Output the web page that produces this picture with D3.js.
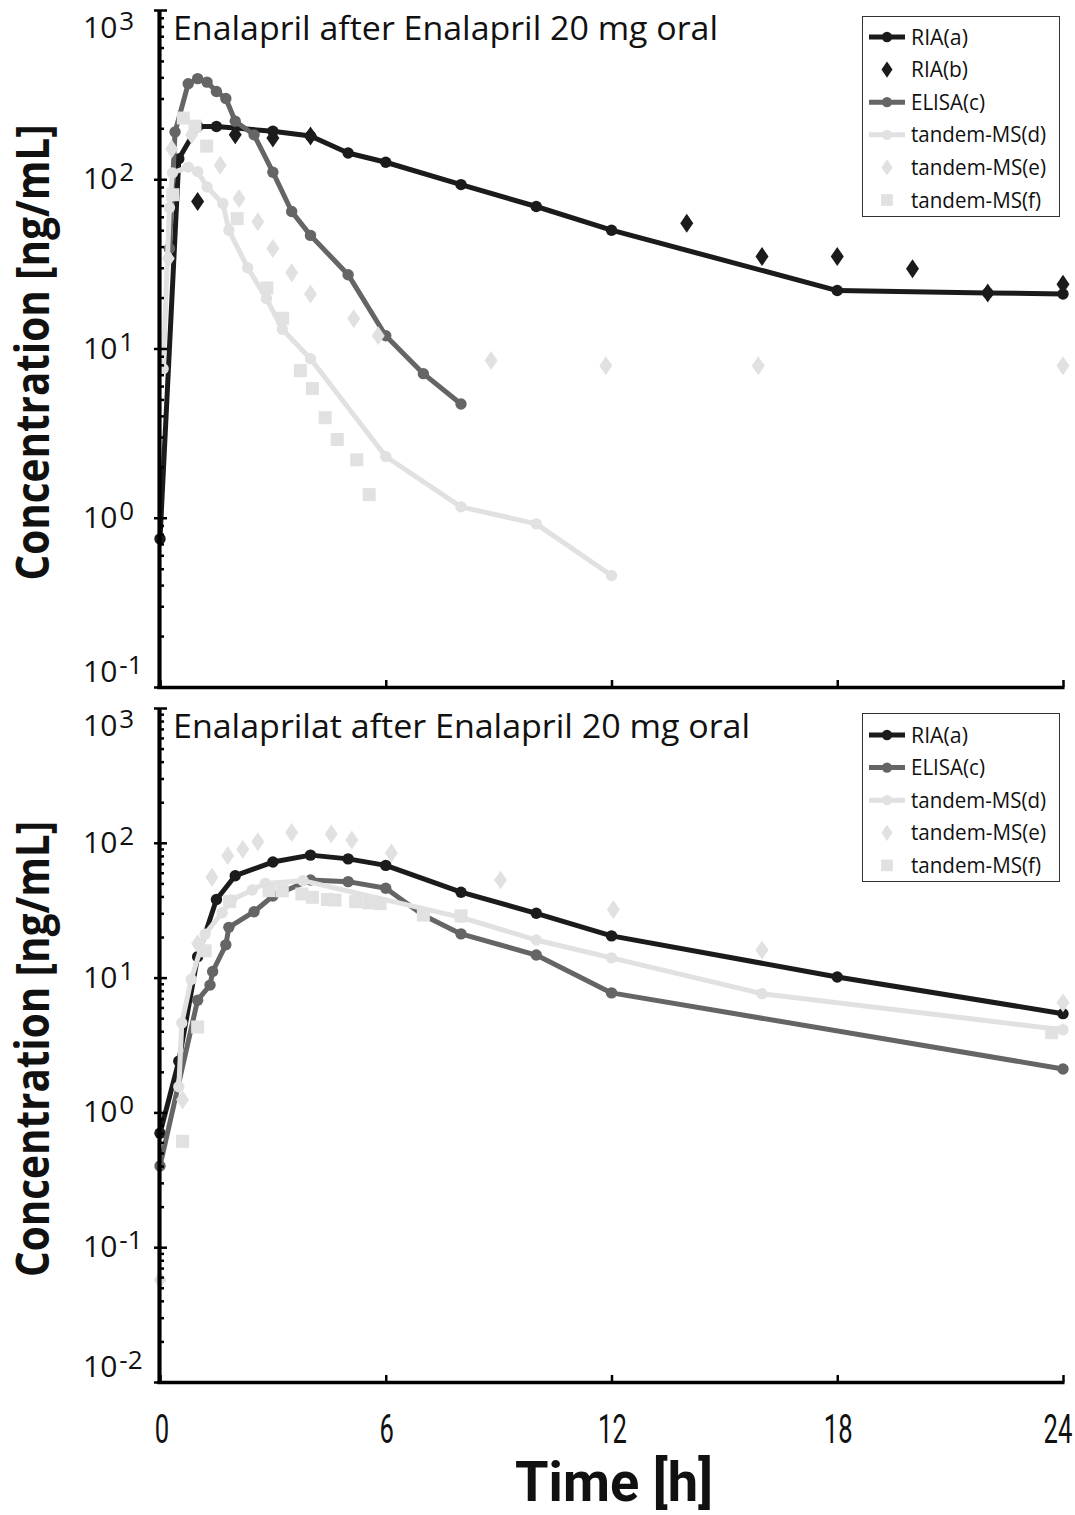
<!DOCTYPE html>
<html>
<head>
<meta charset="utf-8">
<script src="https://cdn.jsdelivr.net/npm/d3@7"></script>
<style>
  html, body { margin: 0; padding: 0; background: #fff; }
  svg { display: block; }
  text { font-family: "Open Sans", "Noto Sans", sans-serif; fill: #111; }
  .tight { font-family: Roboto, "Open Sans", sans-serif; }
</style>
</head>
<body>
<svg id="chart" width="1075" height="1515"></svg>
<script>
// ---- Enalapril (parent drug) after 20 mg oral ----
const enaRiaA_time = [0, 0.5, 1, 1.5, 3, 4, 5, 6, 8, 10, 12, 18, 22, 24];
const enaRiaA_conc = [0.75, 132, 205, 205, 192, 180, 143, 126, 93, 69, 50, 22, 21.3, 21];

const enaRiaB_time = [1, 2, 3, 4, 14, 16, 18, 20, 22, 24];
const enaRiaB_conc = [74, 183, 175, 180, 55, 35, 35, 29.6, 21.3, 24];

const enaElisa_time = [0.25, 0.4, 0.75, 1, 1.25, 1.5, 1.75, 2, 2.5, 3, 3.5, 4, 5, 6, 7, 8];
const enaElisa_conc = [39, 190, 367, 393, 375, 330, 300, 220, 183, 110, 64.5, 46.6, 27.3, 11.9, 7.1, 4.7];

const enaMsD_time = [0.083, 0.25, 0.33, 0.75, 1, 1.25, 1.67, 1.83, 2.33, 2.83, 3.25, 4, 6, 8, 10, 12];
const enaMsD_conc = [7.6, 68, 109, 118, 111, 90, 72, 50, 30, 19.7, 13, 8.7, 2.3, 1.16, 0.92, 0.456];

const enaMsE_time = [0.22, 0.31, 0.84, 1.6, 2.1, 2.6, 3, 3.5, 4, 5.15, 5.8, 8.8, 11.85, 15.9, 24];
const enaMsE_conc = [34, 151, 183, 121, 77, 56, 39, 28, 21, 15, 11.9, 8.5, 7.9, 7.9, 7.9];

const enaMsF_time = [0.34, 0.62, 0.93, 1.24, 2.05, 2.84, 3.26, 3.73, 4.05, 4.39, 4.71, 5.23, 5.56];
const enaMsF_conc = [81, 230, 206, 157, 58.5, 22.8, 15.1, 7.4, 5.8, 3.9, 2.9, 2.2, 1.37];

// ---- Enalaprilat (active metabolite) after Enalapril 20 mg oral ----
const latRiaA_time = [0, 0.5, 1, 1.5, 2, 3, 4, 5, 6, 8, 10, 12, 18, 24];
const latRiaA_conc = [0.7, 2.4, 14.3, 38, 57, 72, 81, 76, 68, 43, 30, 20.4, 10.1, 5.4];

const latElisa_time = [0, 1, 1.33, 1.4, 1.75, 1.83, 2.5, 3, 4, 5, 6, 7, 8, 10, 12, 24];
const latElisa_conc = [0.4, 6.8, 8.8, 11.1, 17.5, 23.6, 30.8, 40.3, 53, 51.5, 46, 29, 21.1, 14.7, 7.7, 2.1];

const latMsD_time = [0.5, 0.58, 0.83, 1.2, 1.65, 1.9, 2.45, 2.8, 3.8, 8, 10, 12, 16, 24];
const latMsD_conc = [1.55, 4.6, 9.7, 21, 30.3, 37.7, 44.7, 50, 52.4, 28, 19, 14, 7.6, 4.1];

const latMsE_time = [0, 0.6, 1, 1.38, 1.8, 2.2, 2.6, 3.5, 4.55, 5.1, 6.15, 9.05, 12.05, 16, 24];
const latMsE_conc = [0.057, 1.24, 17.8, 55.5, 80, 89.5, 102, 119, 116, 105, 84, 53, 32, 16, 6.5];

const latMsF_time = [0.6, 1, 1.2, 1.85, 2.9, 3.25, 3.77, 4.05, 4.45, 4.65, 5.2, 5.55, 5.85, 7, 8, 23.7];
const latMsF_conc = [0.61, 4.3, 15.8, 36.6, 44.2, 44, 41.7, 39.4, 38, 37.6, 36.6, 35.9, 35.4, 29.1, 28.7, 3.9];

// ---- axis ticks and text ----
const timeTicks = [0, 6, 12, 18, 24];
const yTitle = "Concentration [ng/mL]";
const xTitle = "Time [h]";
const panelTitles = ["Enalapril after Enalapril 20 mg oral", "Enalaprilat after Enalapril 20 mg oral"];

// ---- series styles ----
const STYLE = {
  "RIA(a)":       { color: "#1b1b1b", kind: "line" },
  "RIA(b)":       { color: "#1b1b1b", kind: "diamond" },
  "ELISA(c)":     { color: "#656565", kind: "line" },
  "tandem-MS(d)": { color: "#e1e1e1", kind: "line" },
  "tandem-MS(e)": { color: "#e1e1e1", kind: "diamond" },
  "tandem-MS(f)": { color: "#e1e1e1", kind: "square" }
};

const zip = (t, c) => t.map((d, i) => ({ t: d, c: c[i] }));

const panels = [
  {
    title: panelTitles[0], yMin: 0.1, yMax: 1000, top: 10, bottom: 687,
    legend: { x: 862, y: 16, w: 197, h: 200, row0: 37, step: 32.6 },
    series: [
      ["RIA(a)", zip(enaRiaA_time, enaRiaA_conc)],
      ["RIA(b)", zip(enaRiaB_time, enaRiaB_conc)],
      ["ELISA(c)", zip(enaElisa_time, enaElisa_conc)],
      ["tandem-MS(d)", zip(enaMsD_time, enaMsD_conc)],
      ["tandem-MS(e)", zip(enaMsE_time, enaMsE_conc)],
      ["tandem-MS(f)", zip(enaMsF_time, enaMsF_conc)]
    ],
    showX: false
  },
  {
    title: panelTitles[1], yMin: 0.01, yMax: 1000, top: 708, bottom: 1382,
    legend: { x: 862, y: 713, w: 197, h: 168, row0: 735, step: 32.6 },
    series: [
      ["RIA(a)", zip(latRiaA_time, latRiaA_conc)],
      ["ELISA(c)", zip(latElisa_time, latElisa_conc)],
      ["tandem-MS(d)", zip(latMsD_time, latMsD_conc)],
      ["tandem-MS(e)", zip(latMsE_time, latMsE_conc)],
      ["tandem-MS(f)", zip(latMsF_time, latMsF_conc)]
    ],
    showX: true
  }
];

const svg = d3.select("#chart");
const X0 = 160, X1 = 1063;
const x = d3.scaleLinear().domain([0, 24]).range([X0, X1]);

// squeeze a text element to a given width
function fit(sel, w) {
  sel.attr("textLength", w).attr("lengthAdjust", "spacingAndGlyphs");
}

function drawMarker(g, kind, cx, cy, color, scale = 1) {
  if (kind === "diamond") {
    const hw = 6.5 * scale, hh = 9.5 * scale;
    g.append("path")
      .attr("d", `M${cx},${cy - hh}L${cx + hw},${cy}L${cx},${cy + hh}L${cx - hw},${cy}Z`)
      .attr("fill", color);
  } else if (kind === "square") {
    const s = 13 * scale;
    g.append("rect").attr("x", cx - s / 2).attr("y", cy - s / 2)
      .attr("width", s).attr("height", s).attr("fill", color);
  } else {
    g.append("circle").attr("cx", cx).attr("cy", cy).attr("r", 5.7 * scale).attr("fill", color);
  }
}

panels.forEach(p => {
  const y = d3.scaleLog().domain([p.yMin, p.yMax]).range([p.bottom, p.top]);
  const g = svg.append("g");

  // data series, drawn in legend order
  p.series.forEach(([name, pts]) => {
    const st = STYLE[name];
    const sg = g.append("g");
    if (st.kind === "line") {
      sg.append("path")
        .datum(pts)
        .attr("fill", "none")
        .attr("stroke", st.color)
        .attr("stroke-width", 5)
        .attr("stroke-linejoin", "round")
        .attr("d", d3.line().x(d => x(d.t)).y(d => y(d.c)));
      pts.forEach(d => drawMarker(sg, "circle", x(d.t), y(d.c), st.color));
    } else {
      pts.forEach(d => drawMarker(sg, st.kind, x(d.t), y(d.c), st.color));
    }
  });

  // y axis: minor ticks inside, major ticks across the line
  const lo = Math.round(Math.log10(p.yMin)), hi = Math.round(Math.log10(p.yMax));
  const majors = d3.range(lo, hi + 1).map(e => Math.pow(10, e));
  const minors = [];
  for (let e = lo; e < hi; e++) for (let k = 2; k <= 9; k++) minors.push(k * Math.pow(10, e));

  const ax = g.append("g").attr("transform", `translate(${X0 - 1},0)`);
  ax.append("g").call(d3.axisRight(y).tickValues(minors).tickSize(5).tickSizeOuter(0).tickFormat(""));
  ax.append("g").call(d3.axisRight(y).tickValues(majors).tickSize(8).tickSizeOuter(0).tickFormat(""));
  ax.append("g").call(d3.axisLeft(y).tickValues(majors).tickSize(5).tickSizeOuter(0).tickFormat(""));
  ax.selectAll(".domain").attr("stroke", "#000").attr("stroke-width", 3.5);
  ax.selectAll(".tick line").attr("stroke", "#000").attr("stroke-width", 2.5);

  // decade labels with superscript exponents, left aligned
  majors.forEach((v, i) => {
    const e = lo + i;
    const ty = y(v);
    let base;
    if (i === majors.length - 1) base = ty + 28;
    else if (i === 0) base = ty - 5;
    else base = ty + 10;
    const t = g.append("text")
      .attr("x", 83).attr("y", base)
      .style("font-size", "30px");
    t.append("tspan").text("10");
    t.append("tspan").attr("dx", 2).attr("dy", -8).style("font-size", "26px").text(String(e));
  });

  // x axis with inward ticks
  const xa = g.append("g").attr("transform", `translate(0,${p.bottom})`)
    .call(d3.axisBottom(x).tickValues(timeTicks).tickSize(-7).tickSizeOuter(0).tickFormat(""));
  xa.select(".domain").attr("stroke", "#000").attr("stroke-width", 3.5)
    .attr("d", `M${X0 - 2.75},0.5H${X1 + 1.5}`);
  xa.selectAll(".tick line").attr("stroke", "#000").attr("stroke-width", 2.5);

  if (p.showX) {
    // narrow numerals: horizontally condensed tick labels
    timeTicks.forEach(v => {
      const cx = x(v) + (v === 0 ? 2 : v === 24 ? -5 : 1);
      g.append("text")
        .attr("class", "tight")
        .attr("transform", `translate(${cx},${p.bottom + 61}) scale(0.64,1)`)
        .attr("text-anchor", "middle")
        .style("font-size", "40px")
        .text(v);
    });
    const xt = g.append("text")
      .attr("class", "tight")
      .attr("x", 614).attr("y", p.bottom + 119)
      .attr("text-anchor", "middle")
      .style("font-size", "55px").style("font-weight", "700")
      .text(xTitle);
    fit(xt, 198);
  }

  // y axis title
  const yt = g.append("text")
    .attr("transform", `translate(49,${(p.top + p.bottom) / 2 + 4}) rotate(-90)`)
    .attr("text-anchor", "middle")
    .style("font-size", "47px").style("font-weight", "700")
    .text(yTitle);
  fit(yt, 456);

  // panel title
  const tt = g.append("text")
    .attr("x", 173).attr("y", p.top + 30)
    .style("font-size", "32px")
    .text(p.title);
  fit(tt, p.showX ? 577 : 545);

  // legend
  const L = p.legend;
  const lg = g.append("g");
  lg.append("rect").attr("x", L.x + 0.5).attr("y", L.y + 0.5).attr("width", L.w).attr("height", L.h)
    .attr("fill", "#fff").attr("stroke", "#333").attr("stroke-width", 1);
  const widths = { "RIA(a)": 57, "RIA(b)": 57, "ELISA(c)": 74, "tandem-MS(d)": 135, "tandem-MS(e)": 135, "tandem-MS(f)": 130 };
  p.series.forEach(([name], i) => {
    const st = STYLE[name];
    const cy = L.row0 + i * L.step;
    if (st.kind === "line") {
      lg.append("line").attr("x1", 869).attr("x2", 905).attr("y1", cy).attr("y2", cy)
        .attr("stroke", st.color).attr("stroke-width", 5);
      drawMarker(lg, "circle", 887, cy, st.color, 0.9);
    } else {
      drawMarker(lg, st.kind, 887, cy, st.color, st.kind === "diamond" ? 0.85 : 0.9);
    }
    const lt = lg.append("text").attr("x", 911).attr("y", cy + 7.5)
      .style("font-size", "21px").text(name);
    fit(lt, widths[name]);
  });
});
</script>
</body>
</html>
